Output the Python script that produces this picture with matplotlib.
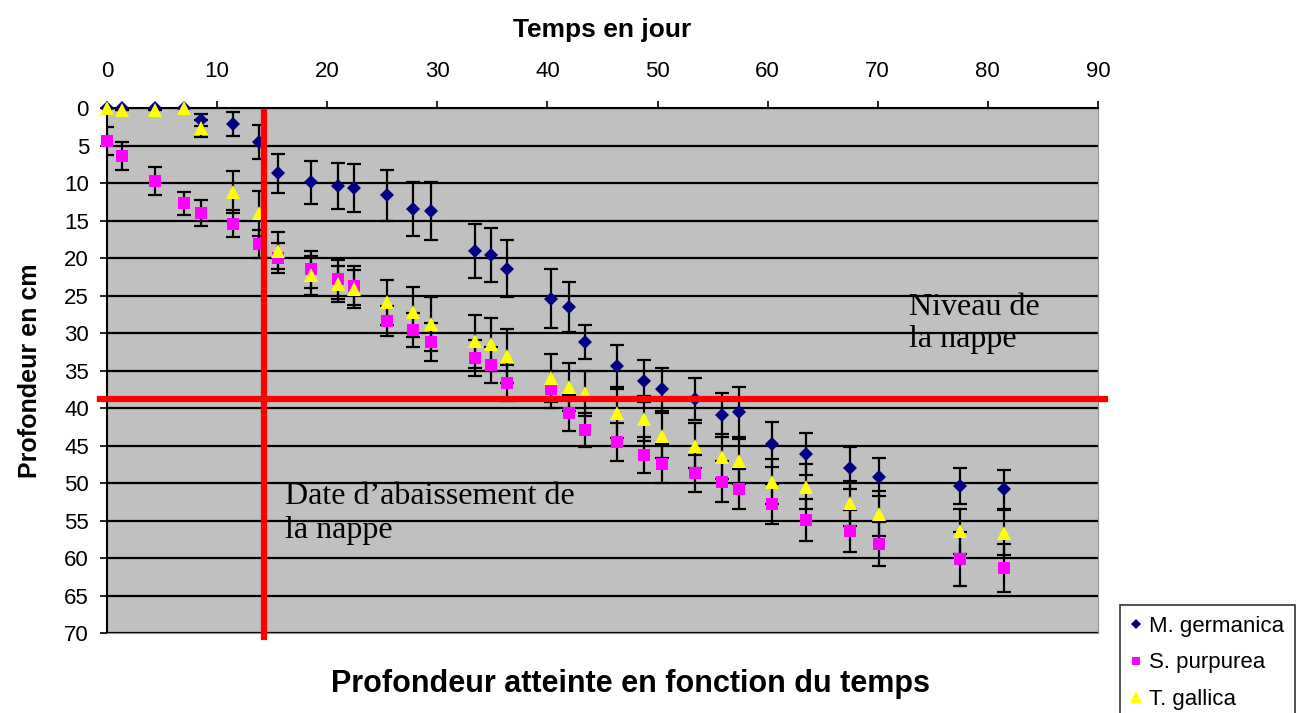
import matplotlib.pyplot as plt
from matplotlib.lines import Line2D

# temps en jours (commun aux trois espèces)
jours = [0, 1.4, 4.4, 7.0, 8.5, 11.4, 13.8, 15.5, 18.5, 21.0, 22.4, 25.4, 27.8, 29.4,
         33.4, 34.9, 36.3, 40.3, 42.0, 43.4, 46.3, 48.8, 50.4, 53.4, 55.9, 57.4,
         60.4, 63.5, 67.5, 70.1, 77.5, 81.5]

germanica = [0, 0, 0, 0, 1.6, 2.1, 4.5, 8.7, 9.9, 10.4, 10.6, 11.6, 13.5, 13.7,
             19.0, 19.6, 21.4, 25.4, 26.5, 31.2, 34.4, 36.4, 37.5, 38.8, 40.9, 40.5,
             44.8, 46.1, 48.0, 49.2, 50.4, 50.8]
germanica_err = [0, 0, 0, 0, 0.8, 1.6, 2.3, 2.6, 2.9, 3.1, 3.2, 3.4, 3.6, 3.9,
                 3.6, 3.6, 3.8, 3.9, 3.3, 2.3, 2.8, 2.8, 2.9, 2.8, 2.9, 3.3,
                 3.0, 2.8, 2.8, 2.5, 2.4, 2.6]

purpurea = [4.4, 6.4, 9.7, 12.7, 14.0, 15.4, 18.1, 20.0, 21.5, 22.8, 23.7, 28.4, 29.6, 31.2,
            33.3, 34.3, 36.6, 37.5, 40.7, 42.9, 44.5, 46.3, 47.4, 48.7, 49.8, 50.8,
            52.8, 54.9, 56.4, 58.1, 60.1, 61.3]
purpurea_err = [1.9, 1.9, 1.9, 1.5, 1.7, 1.8, 1.9, 2.0, 2.5, 2.6, 2.6, 2.0, 2.3, 2.5,
                2.4, 2.4, 2.4, 2.5, 2.4, 2.3, 2.5, 2.4, 2.6, 2.5, 2.7, 2.7,
                2.7, 2.8, 2.8, 2.9, 3.6, 3.2]

gallica = [0, 0.3, 0.3, 0, 2.7, 11.2, 14.0, 19.0, 22.3, 23.5, 24.1, 25.9, 27.2, 28.8,
           31.1, 31.5, 33.0, 36.0, 37.2, 38.0, 40.7, 41.4, 43.7, 45.0, 46.5, 47.1,
           49.8, 50.5, 52.7, 54.1, 56.4, 56.6]
gallica_err = [0, 0, 0, 0, 1.1, 2.8, 3.0, 2.5, 2.6, 2.4, 2.5, 3.0, 3.3, 3.6,
               3.5, 3.5, 3.6, 3.2, 3.2, 3.0, 3.3, 3.0, 3.0, 3.0, 3.0, 3.0,
               3.0, 3.0, 3.0, 3.0, 3.0, 3.0]

date_abaissement = 14.3
niveau_nappe = 38.8

plt.rcParams['font.family'] = ['Liberation Sans', 'DejaVu Sans']

fig = plt.figure(figsize=(13.08, 7.13), dpi=100)
ax = fig.add_axes([0.0818, 0.1122, 0.7576, 0.7363])
ax.set_facecolor('#C0C0C0')

series = [
    (germanica, germanica_err, 'D', '#000080', 7, 'M. germanica'),
    (purpurea, purpurea_err, 's', '#FF00FF', 8, 'S. purpurea'),
    (gallica, gallica_err, '^', '#FFFF00', 10, 'T. gallica'),
]
handles = []
for vals, err, m, col, ms, lab in series:
    eb = ax.errorbar(jours, vals, yerr=err, fmt=m, color=col, markersize=ms,
                     ecolor='black', elinewidth=1.6, capsize=5, capthick=1.6,
                     zorder=3)
    eb.lines[0].set_markeredgewidth(0)
    eb.lines[0].set_clip_on(False)
    handles.append(Line2D([], [], marker=m, color=col, linestyle='none',
                          markersize=ms * 0.8, markeredgewidth=0, label=lab))

ax.set_xlim(0, 90)
ax.set_ylim(70, 0)
ax.set_xticks(range(0, 91, 10))
ax.set_yticks(range(0, 71, 5))
ax.xaxis.tick_top()
ax.xaxis.set_label_position('top')
ax.tick_params(axis='both', labelsize=16, length=5, width=1.2, direction='out')
ax.tick_params(axis='x', pad=14)
ax.tick_params(axis='y', pad=8)

ax.yaxis.grid(True, color='black', linewidth=1.6)
ax.set_axisbelow(True)
ax.spines['left'].set_linewidth(1.5)
ax.spines['top'].set_linewidth(1.5)
ax.spines['right'].set_color('#909090')
ax.spines['bottom'].set_color('#909090')

ax.set_xlabel('Temps en jour', fontsize=19, fontweight='bold', labelpad=17)
ax.set_ylabel('Profondeur en cm', fontsize=18, fontweight='bold', labelpad=16)

# lignes rouges : date d'abaissement et niveau de la nappe
ax.plot([date_abaissement, date_abaissement], [0.5, 70.5], color='red', lw=4.5,
        clip_on=False, zorder=4)
ax.plot([-0.6, 90.6], [niveau_nappe, niveau_nappe], color='red', lw=4.5,
        clip_on=False, zorder=4)

ax.text(72.8, 24.6, 'Niveau de\nla nappe', family='Liberation Serif', fontsize=23,
        va='top', ha='left', linespacing=1.15, zorder=5)
ax.text(16.2, 49.9, 'Date d\u2019abaissement de\nla nappe', family='Liberation Serif',
        fontsize=23, va='top', ha='left', linespacing=1.2, zorder=5)

fig.text(0.482, 0.040, 'Profondeur atteinte en fonction du temps', ha='center',
         va='center', fontsize=22, fontweight='bold')

leg = fig.legend(handles=handles, loc='upper left', bbox_to_anchor=(0.856, 0.152),
                 fontsize=16, frameon=True, fancybox=False, edgecolor='black',
                 handlelength=0.5, handletextpad=0.3, borderpad=0.5,
                 labelspacing=0.7, borderaxespad=0)
leg.get_frame().set_linewidth(1.2)

fig.savefig('out.png', dpi=100)
